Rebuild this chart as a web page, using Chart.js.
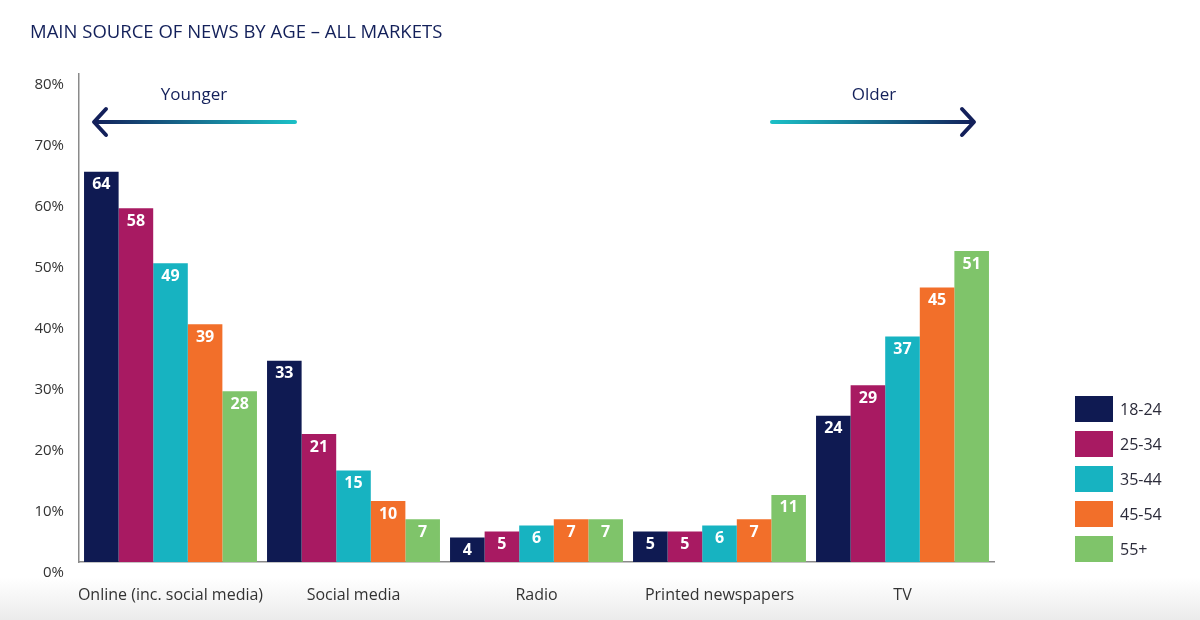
<!DOCTYPE html>
<html>
<head>
<meta charset="utf-8">
<script src="https://cdn.jsdelivr.net/npm/chart.js@4.4.1/dist/chart.umd.min.js"></script>
<style>
  html, body { margin: 0; padding: 0; }
  body { width: 1200px; height: 620px; background: linear-gradient(to bottom, #ffffff 0px, #ffffff 578px, #ebebeb 620px); }
  #wrap { position: relative; width: 1200px; height: 620px; }
</style>
</head>
<body>
<div id="wrap"><canvas id="chartNews"></canvas></div>
<script>
var sources = ['Online (inc. social media)', 'Social media', 'Radio', 'Printed newspapers', 'TV']
var ageGroups = ['18-24', '25-34', '35-44', '45-54', '55+']
var age1824 = [64, 33, 4, 5, 24]
var age2534 = [58, 21, 5, 5, 29]
var age3544 = [49, 15, 6, 6, 37]
var age4554 = [39, 10, 7, 7, 45]
var age55 = [28, 7, 7, 11, 51]
var barColors = ['#0f1a52', '#a81a62', '#17b3c1', '#f26f2a', '#7fc46a']
var navy = '#13205a'
var fontFamily = "'Open Sans', sans-serif"

var seriesValues = [age1824, age2534, age3544, age4554, age55]

// white numbers just under the top of each bar
const barLabels = {
    id: 'barLabels',
    afterDatasetsDraw(chart) {
        const ctx = chart.ctx;
        ctx.save();
        ctx.fillStyle = '#ffffff';
        ctx.font = 'bold 16px ' + fontFamily;
        ctx.textAlign = 'center';
        ctx.textBaseline = 'middle';
        chart.data.datasets.forEach((ds, i) => {
            chart.getDatasetMeta(i).data.forEach((bar, j) => {
                ctx.fillText(ds.data[j], bar.x, bar.y + 13);
            });
        });
        ctx.restore();
    }
}

// age arrows and a legend placed off to the right
const extras = {
    id: 'extras',
    afterDraw(chart) {
        const ctx = chart.ctx;
        ctx.save();
        ctx.font = '17px ' + fontFamily;
        ctx.fillStyle = navy;
        ctx.textAlign = 'center';
        ctx.textBaseline = 'middle';
        ctx.fillText('Younger', 194, 95);
        ctx.fillText('Older', 874, 95);

        ctx.lineWidth = 4;
        ctx.lineCap = 'round';
        ctx.lineJoin = 'round';

        let g = ctx.createLinearGradient(93, 0, 295, 0);
        g.addColorStop(0, navy);
        g.addColorStop(1, '#1bbfc6');
        ctx.strokeStyle = g;
        ctx.beginPath();
        ctx.moveTo(295, 122);
        ctx.lineTo(95, 122);
        ctx.stroke();
        ctx.strokeStyle = navy;
        ctx.beginPath();
        ctx.moveTo(106, 109);
        ctx.lineTo(94, 122);
        ctx.lineTo(106, 135);
        ctx.stroke();

        g = ctx.createLinearGradient(772, 0, 975, 0);
        g.addColorStop(0, '#1bbfc6');
        g.addColorStop(1, navy);
        ctx.strokeStyle = g;
        ctx.beginPath();
        ctx.moveTo(772, 122);
        ctx.lineTo(973, 122);
        ctx.stroke();
        ctx.strokeStyle = navy;
        ctx.beginPath();
        ctx.moveTo(962, 109);
        ctx.lineTo(974, 122);
        ctx.lineTo(962, 135);
        ctx.stroke();

        ctx.font = '16px ' + fontFamily;
        ctx.textAlign = 'left';
        chart.data.datasets.forEach((ds, i) => {
            const top = 396 + i * 35;
            ctx.fillStyle = ds.backgroundColor;
            ctx.fillRect(1075, top, 38, 26);
            ctx.fillStyle = '#2b2b3a';
            ctx.fillText(ds.label, 1120, top + 14);
        });
        ctx.restore();
    }
}

const ctx = document.getElementById('chartNews').getContext('2d');
const chartNews = new Chart(ctx, {
    type: 'bar',
    data: {
        labels: sources,
        datasets: ageGroups.map((label, i) => ({
            label: label,
            data: seriesValues[i],
            backgroundColor: barColors[i],
            borderWidth: 0,
            barPercentage: 1,
            categoryPercentage: 0.945
        }))
    },
    options: {
        responsive: true,
        maintainAspectRatio: false,
        animation: false,
        layout: { padding: { left: 30, right: 206, top: 20, bottom: 0 } },
        plugins: {
            legend: { display: false },
            tooltip: { enabled: false },
            title: {
                display: true,
                text: 'MAIN SOURCE OF NEWS BY AGE \u2013 ALL MARKETS',
                align: 'start',
                color: navy,
                font: { family: fontFamily, size: 18.5, weight: 'normal' },
                padding: { top: 2, bottom: 30 }
            }
        },
        scales: {
            x: {
                grid: { display: false, drawTicks: false },
                border: { color: '#8a8a8a', width: 1.5 },
                ticks: {
                    color: '#333333',
                    font: { family: fontFamily, size: 16 },
                    padding: 24,
                    maxRotation: 0,
                    autoSkip: false
                },
                afterFit: scale => { scale.height = 58; }
            },
            y: {
                min: 0,
                max: 80,
                grid: { display: false, drawTicks: false },
                border: { color: '#8a8a8a', width: 1.5 },
                ticks: {
                    stepSize: 10,
                    color: '#333333',
                    font: { family: fontFamily, size: 15 },
                    padding: 15,
                    labelOffset: 11,
                    callback: v => v + '%'
                },
                afterFit: scale => { scale.width = 49; }
            }
        }
    },
    plugins: [barLabels, extras]
});
</script>
</body>
</html>
